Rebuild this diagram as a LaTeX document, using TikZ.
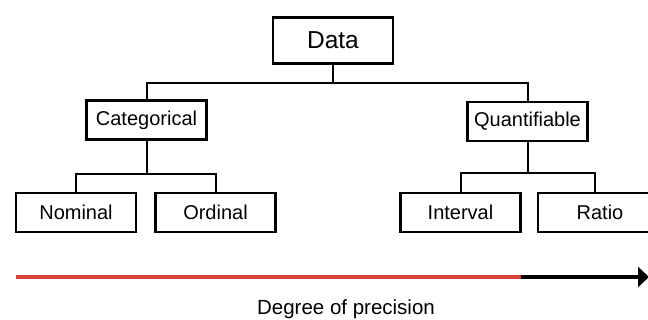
\documentclass[tikz,border=0pt]{standalone}
\usepackage{fontspec}
\setmainfont{Liberation Sans}
\usetikzlibrary{arrows.meta}
\definecolor{precred}{RGB}{217,68,55}

\begin{document}
\begin{tikzpicture}[x=1pt,y=-1pt,line join=miter,
  box/.style={draw,line width=2.6pt,minimum width=120pt,minimum height=39pt,inner sep=0pt,font=\fontsize{20}{23}\selectfont},
  link/.style={line width=2pt}]
\useasboundingbox (0,0) rectangle (648,320);
\node[box,minimum height=46pt,font=\fontsize{24.5}{28}\selectfont] (data) at (333,40.5) {Data};
\node[box] (cat) at (146.5,120) {Categorical};
\node[box] (quant) at (527.5,121.5) {Quantifiable};
\node[box] (nom) at (76,212.5) {Nominal};
\node[box] (ord) at (215.5,212.5) {Ordinal};
\node[box] (int) at (460.5,212.5) {Interval};
\node[box,minimum width=124pt] (ratio) at (600,212.5) {Ratio};
% tree lines
\draw[link] (data.south) -- ++(0,18) -| (cat.north);
\draw[link] (data.south) ++(0,18) -| (quant.north);
\draw[link] (cat.south) -- ++(0,33) -| (nom.north);
\draw[link] (cat.south) ++(0,33) -| (ord.north);
\draw[link] (quant.south) -- ++(0,30.5) -| (int.north);
\draw[link] (quant.south) ++(0,30.5) -| ([xshift=-5pt]ratio.north);
% precision axis
\coordinate (start) at (16,277);
\coordinate (mid) at (521,277);
\coordinate (stop) at (649,277);
\draw[line width=4pt,precred] (start) -- (mid);
\draw[line width=4pt,-{Triangle[length=11pt,width=20pt]}] (mid) -- (stop);
\node[font=\fontsize{20.5}{23}\selectfont] (prec) at (346,309) {Degree of precision};
\end{tikzpicture}
\end{document}
